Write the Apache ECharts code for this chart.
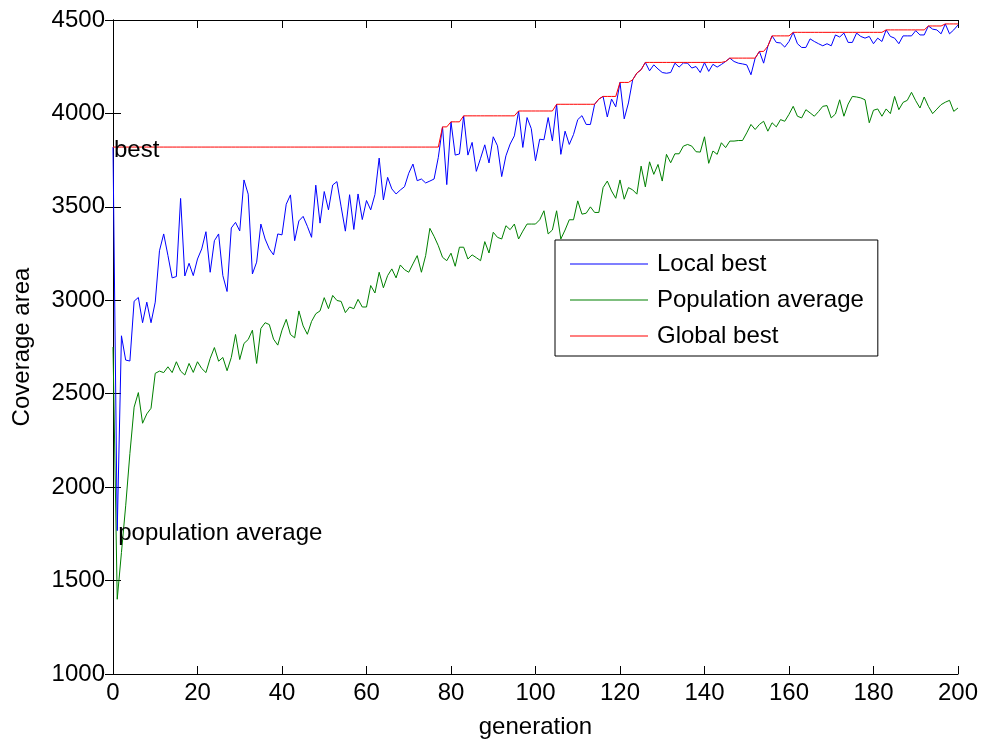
<!DOCTYPE html>
<html>
<head>
<meta charset="utf-8">
<script src="https://cdn.jsdelivr.net/npm/echarts@6/dist/echarts.min.js"></script>
<style>
  html, body { margin: 0; padding: 0; background: #fff; }
  #chart { width: 981px; height: 744px; }
</style>
</head>
<body>
<div id="chart"></div>
<script>
// Coverage area per generation (gen 0..200)
const localBest = [
  3820, 1767, 2810, 2680, 2675, 2995, 3015, 2880, 2990, 2880,
  2990, 3265, 3355, 3240, 3120, 3127, 3545, 3130, 3198, 3132,
  3221, 3275, 3367, 3150, 3319, 3355, 3132, 3047, 3387, 3417,
  3371, 3644, 3568, 3141, 3204, 3408, 3328, 3275, 3243, 3355,
  3350, 3514, 3564, 3319, 3425, 3449, 3396, 3337, 3616, 3413,
  3582, 3484, 3617, 3635, 3500, 3370, 3565, 3379, 3569, 3432,
  3534, 3484, 3566, 3761, 3537, 3658, 3596, 3569, 3590, 3608,
  3680, 3729, 3640, 3649, 3628, 3638, 3649, 3765, 3928, 3619,
  3955, 3777, 3783, 3987, 3777, 3845, 3690, 3760, 3832, 3735,
  3875, 3827, 3662, 3773, 3836, 3880, 4013, 3818, 3978, 3919,
  3747, 3862, 3859, 3978, 3853, 4049, 3781, 3905, 3834, 3887,
  3967, 3988, 3941, 3941, 4049, 4077, 4091, 3981, 4077, 4035,
  4166, 3971, 4056, 4180, 4216, 4234, 4273, 4228, 4260, 4238,
  4219, 4215, 4219, 4269, 4248, 4270, 4269, 4243, 4251, 4219,
  4272, 4225, 4263, 4248, 4262, 4278, 4296, 4278, 4269, 4265,
  4260, 4207, 4296, 4332, 4269, 4360, 4415, 4380, 4377, 4355,
  4385, 4434, 4373, 4353, 4353, 4399, 4385, 4373, 4362, 4373,
  4362, 4420, 4409, 4430, 4380, 4380, 4430, 4412, 4403, 4412,
  4373, 4403, 4385, 4447, 4412, 4403, 4373, 4415, 4415, 4415,
  4443, 4420, 4420, 4468, 4451, 4447, 4426, 4479, 4426, 4447,
  4473
];

const populationAverage = [
  2750, 1400, 1650, 1900, 2180, 2428, 2506, 2342, 2392, 2422,
  2609, 2621, 2613, 2644, 2613, 2671, 2621, 2600, 2662, 2614,
  2671, 2635, 2613, 2689, 2747, 2674, 2694, 2623, 2694, 2817,
  2683, 2769, 2790, 2840, 2662, 2849, 2880, 2870, 2792, 2760,
  2840, 2898, 2817, 2799, 2943, 2863, 2818, 2887, 2928, 2943,
  3014, 2955, 3026, 2999, 2994, 2934, 2964, 2955, 3005, 2964,
  2964, 3079, 3039, 3150, 3067, 3132, 3168, 3120, 3189, 3164,
  3150, 3195, 3239, 3150, 3239, 3385, 3342, 3292, 3230, 3212,
  3252, 3182, 3284, 3284, 3221, 3243, 3228, 3212, 3314, 3253,
  3364, 3337, 3328, 3399, 3378, 3408, 3328, 3370, 3408, 3408,
  3408, 3431, 3479, 3355, 3376, 3479, 3328, 3376, 3431, 3431,
  3532, 3461, 3466, 3500, 3470, 3470, 3603, 3638, 3585, 3546,
  3644, 3541, 3603, 3591, 3568, 3718, 3607, 3741, 3674, 3727,
  3638, 3781, 3736, 3784, 3784, 3825, 3834, 3825, 3795, 3793,
  3875, 3733, 3799, 3781, 3843, 3817, 3852, 3852, 3855, 3855,
  3896, 3941, 3914, 3941, 3958, 3905, 3950, 3928, 3967, 3958,
  3995, 4038, 3985, 3976, 4020, 4003, 3985, 4010, 4038, 4042,
  3976, 3997, 4073, 3985, 4050, 4091, 4088, 4083, 4073, 3950,
  4017, 4024, 3985, 4024, 3999, 4091, 4020, 4059, 4070, 4113,
  4068, 4029, 4088, 4038, 3999, 4023, 4047, 4060, 4070, 4011,
  4029
];

const globalBest = [
  3820, 3820, 3820, 3820, 3820, 3820, 3820, 3820, 3820, 3820,
  3820, 3820, 3820, 3820, 3820, 3820, 3820, 3820, 3820, 3820,
  3820, 3820, 3820, 3820, 3820, 3820, 3820, 3820, 3820, 3820,
  3820, 3820, 3820, 3820, 3820, 3820, 3820, 3820, 3820, 3820,
  3820, 3820, 3820, 3820, 3820, 3820, 3820, 3820, 3820, 3820,
  3820, 3820, 3820, 3820, 3820, 3820, 3820, 3820, 3820, 3820,
  3820, 3820, 3820, 3820, 3820, 3820, 3820, 3820, 3820, 3820,
  3820, 3820, 3820, 3820, 3820, 3820, 3820, 3820, 3928, 3928,
  3955, 3955, 3955, 3987, 3987, 3987, 3987, 3987, 3987, 3987,
  3987, 3987, 3987, 3987, 3987, 3987, 4013, 4013, 4013, 4013,
  4013, 4013, 4013, 4013, 4013, 4049, 4049, 4049, 4049, 4049,
  4049, 4049, 4049, 4049, 4049, 4077, 4091, 4091, 4091, 4091,
  4166, 4166, 4166, 4180, 4216, 4234, 4273, 4273, 4273, 4273,
  4273, 4273, 4273, 4273, 4273, 4273, 4273, 4273, 4273, 4273,
  4273, 4273, 4273, 4273, 4273, 4278, 4296, 4296, 4296, 4296,
  4296, 4296, 4296, 4332, 4332, 4360, 4415, 4415, 4415, 4415,
  4415, 4434, 4434, 4434, 4434, 4434, 4434, 4434, 4434, 4434,
  4434, 4434, 4434, 4434, 4434, 4434, 4434, 4434, 4434, 4434,
  4434, 4434, 4434, 4447, 4447, 4447, 4447, 4447, 4447, 4447,
  4447, 4447, 4447, 4468, 4468, 4468, 4468, 4479, 4479, 4479,
  4479
];

// Text annotations placed at data coordinates
const annotationText = ['best', 'population average'];
const annotationGen = [0, 1];
const annotationValue = [3820, 1767];

const seriesNames = ['Local best', 'Population average', 'Global best'];
const seriesColors = ['#0000ff', '#008000', '#ff0000'];

const xTicks = { min: 0, max: 200, interval: 20 };
const yTicks = { min: 1000, max: 4500, interval: 500 };

const FONT = 'Liberation Sans, Arial, Helvetica, sans-serif';

function toPairs(values) {
  return values.map((v, i) => [i, v]);
}

const tickStyle = { show: true, inside: true, length: 8, lineStyle: { color: '#000', width: 1 } };
const lineAxis = { show: true, lineStyle: { color: '#000', width: 1 } };
const plainNumber = v => String(v);

const chart = echarts.init(document.getElementById('chart'), null, { renderer: 'canvas' });

chart.setOption({
  animation: false,
  backgroundColor: '#fff',
  grid: { left: 113, right: 23, top: 20, bottom: 67 },
  textStyle: { fontFamily: FONT },
  legend: {
    data: seriesNames.map(n => ({ name: n, icon: 'rect' })),
    orient: 'vertical',
    left: 555,
    top: 240,
    padding: [12, 14, 8, 15],
    itemWidth: 78,
    itemHeight: 1,
    itemGap: 12,
    backgroundColor: '#fff',
    borderColor: '#000',
    borderWidth: 1,
    textStyle: { fontSize: 24, color: '#000', fontFamily: FONT, lineHeight: 24, padding: [0, 0, 0, 4] }
  },
  xAxis: [
    {
      type: 'value',
      min: xTicks.min, max: xTicks.max, interval: xTicks.interval,
      position: 'bottom',
      name: 'generation',
      nameLocation: 'middle',
      nameGap: 41,
      nameTextStyle: { fontSize: 24, color: '#000', fontFamily: FONT },
      axisLine: lineAxis,
      axisTick: tickStyle,
      axisLabel: { fontSize: 24, color: '#000', margin: 7, fontFamily: FONT, formatter: plainNumber },
      splitLine: { show: false }
    },
    {
      type: 'value',
      min: xTicks.min, max: xTicks.max, interval: xTicks.interval,
      position: 'top',
      axisLine: lineAxis,
      axisTick: tickStyle,
      axisLabel: { show: false },
      splitLine: { show: false }
    }
  ],
  yAxis: [
    {
      type: 'value',
      min: yTicks.min, max: yTicks.max, interval: yTicks.interval,
      position: 'left',
      name: 'Coverage area',
      nameLocation: 'middle',
      nameGap: 79,
      nameRotate: 90,
      nameTextStyle: { fontSize: 24, color: '#000', fontFamily: FONT },
      axisLine: lineAxis,
      axisTick: tickStyle,
      axisLabel: { fontSize: 24, color: '#000', margin: 8, fontFamily: FONT, formatter: plainNumber },
      splitLine: { show: false }
    },
    {
      type: 'value',
      min: yTicks.min, max: yTicks.max, interval: yTicks.interval,
      position: 'right',
      axisLine: lineAxis,
      axisTick: tickStyle,
      axisLabel: { show: false },
      splitLine: { show: false }
    }
  ],
  series: [
    {
      name: seriesNames[0],
      type: 'line',
      data: toPairs(localBest),
      symbol: 'none',
      lineStyle: { color: seriesColors[0], width: 1 },
      itemStyle: { color: seriesColors[0] },
      z: 2
    },
    {
      name: seriesNames[1],
      type: 'line',
      data: toPairs(populationAverage),
      symbol: 'none',
      lineStyle: { color: seriesColors[1], width: 1 },
      itemStyle: { color: seriesColors[1] },
      z: 3
    },
    {
      name: seriesNames[2],
      type: 'line',
      data: toPairs(globalBest),
      symbol: 'none',
      lineStyle: { color: seriesColors[2], width: 1 },
      itemStyle: { color: seriesColors[2] },
      z: 4
    },
    {
      name: 'annotations',
      type: 'scatter',
      symbolSize: 0,
      itemStyle: { opacity: 1, color: '#000' },
      data: annotationText.map((t, i) => ({ value: [annotationGen[i], annotationValue[i]], name: t })),
      label: {
        show: true,
        position: 'right',
        distance: 1,
        offset: [0, 3],
        formatter: p => p.name,
        fontSize: 24,
        color: '#000',
        opacity: 1,
        fontFamily: FONT
      },
      silent: true,
      z: 5
    }
  ]
});
</script>
</body>
</html>
